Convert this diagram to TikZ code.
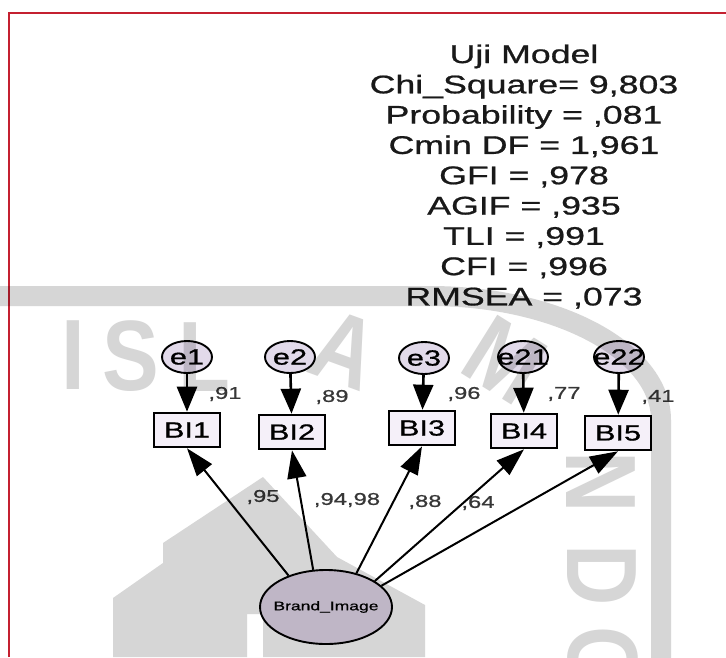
\documentclass[tikz,border=0pt]{standalone}
\usepackage{fontspec}
\setmainfont{Liberation Sans}
\newfontfamily\amosfont[FakeStretch=1.4, FakeBold=0.8]{Liberation Sans}
\newfontfamily\wmfont[FakeStretch=0.85]{Liberation Sans Bold}
\usetikzlibrary{arrows.meta,shapes.geometric}

\definecolor{frame}{RGB}{196,32,48}
\definecolor{errfill}{RGB}{226,218,234}
\definecolor{boxfill}{RGB}{245,240,249}
\definecolor{latfill}{RGB}{228,218,236}
\definecolor{coefgray}{RGB}{55,55,55}
\definecolor{fitgray}{RGB}{25,25,25}
\definecolor{wmgray}{RGB}{214,214,214}

\tikzset{
  errnode/.style={ellipse, draw, line width=1.9pt, fill=errfill,
    minimum width=50pt, minimum height=32pt, inner sep=0pt,
    font=\amosfont\fontsize{22}{22}\selectfont},
  obsnode/.style={rectangle, draw, line width=2.6pt, fill=boxfill,
    minimum width=66pt, minimum height=34pt, inner sep=0pt,
    font=\amosfont\fontsize{22}{22}\selectfont},
  latnode/.style={ellipse, draw, line width=1.9pt, fill=latfill,
    minimum width=132pt, minimum height=74pt, inner sep=0pt,
    font=\amosfont\fontsize{12.5}{12.5}\selectfont},
  errarrow/.style={-{Triangle[length=25pt,width=20pt]}, line width=2.6pt},
  loadarrow/.style={-{Triangle[length=28pt,width=19pt]}, line width=2pt},
  coef/.style={font=\amosfont\fontsize{17}{17}\selectfont, text=coefgray, inner sep=0pt},
  fitline/.style={font=\amosfont\fontsize{25.5}{25.5}\selectfont, text=fitgray,
    anchor=base, inner sep=0pt},
  wmletter/.style={font=\wmfont\fontsize{100}{100}\selectfont,
    text=wmgray, inner sep=0pt},
}

\begin{document}
\begin{tikzpicture}[x=1pt,y=-1pt]
\useasboundingbox (0,0) rectangle (726,657);
\fill[white] (0,0) rectangle (726,657);

% window frame
\draw[frame, line width=2.6pt] (9,657) -- (9,13) -- (726,13);

% fit statistics
\node[fitline] (t1) at (524,63)    {Uji Model};
\node[fitline] (t2) at (524,93.3)  {Chi\_Square= 9,803};
\node[fitline] (t3) at (524,123.6) {Probability = ,081};
\node[fitline] (t4) at (524,153.9) {Cmin DF = 1,961};
\node[fitline] (t5) at (524,184.2) {GFI = ,978};
\node[fitline] (t6) at (524,214.5) {AGIF = ,935};
\node[fitline] (t7) at (524,244.8) {TLI = ,991};
\node[fitline] (t8) at (524,275.1) {CFI = ,996};
\node[fitline] (t9) at (524,305.4) {RMSEA = ,073};

% error terms
\node[errnode] (e1)  at (187,357) {\makebox[0pt]{e1}};
\node[errnode] (e2)  at (290,357) {\makebox[0pt]{e2}};
\node[errnode] (e3)  at (424,358) {\makebox[0pt]{e3}};
\node[errnode] (e21) at (523,357) {\makebox[0pt]{e21}};
\node[errnode] (e22) at (619,357) {\makebox[0pt]{e22}};

% indicators
\node[obsnode] (BI1) at (187,430) {BI1};
\node[obsnode] (BI2) at (292,432) {BI2};
\node[obsnode] (BI3) at (422,428) {BI3};
\node[obsnode] (BI4) at (524,431) {BI4};
\node[obsnode] (BI5) at (618,433) {BI5};

% latent construct
\node[latnode] (bl) at (326,607) {\makebox[0pt]{Brand\_Image}};

% error paths
\draw[errarrow] (e1)  -- (BI1);
\draw[errarrow] (e2)  -- (BI2);
\draw[errarrow] (e3)  -- (BI3);
\draw[errarrow] (e21) -- (BI4);
\draw[errarrow] (e22) -- (BI5);

% loadings
\draw[loadarrow] (bl.140) -- (BI1.south);
\draw[loadarrow] (bl.109) -- (BI2.south);
\draw[loadarrow] (bl.48)  -- (BI3.south);
\draw[loadarrow] (bl.28)  -- (BI4.south);
\draw[loadarrow] (bl.21)  -- (BI5.south);

% squared multiple correlations
\node[coef] (r1) at (225,394) {,91};
\node[coef] (r2) at (332,397) {,89};
\node[coef] (r3) at (464,394) {,96};
\node[coef] (r4) at (564,394) {,77};
\node[coef] (r5) at (658,397) {,41};

% standardized loadings
\node[coef] (w1) at (263,497) {,95};
\node[coef] (w2) at (347,500) {,94,98};
\node[coef] (w3) at (425,502) {,88};
\node[coef] (w4) at (478,503) {,64};

% university watermark
\begin{scope}[blend mode=multiply]
  \draw[wmgray, line width=20pt] (-5,296) -- (430,296)
    arc[start angle=90, end angle=0, x radius=231pt, y radius=124pt] -- (661,670);
  \fill[wmgray] (113,657) -- (113,598) -- (163,563) -- (163,543) -- (263,477)
    -- (337,557) -- (425,605) -- (425,657) -- (263,657) -- (263,614)
    -- (247,614) -- (247,657) -- cycle;
  \node[wmletter] (wI) at (73,355) {I};
  \node[wmletter] (wS) at (131,356) {S};
  \node[wmletter] (wL) at (204,357) {L};
  \node[wmletter, rotate=-20] (wA) at (345,350) {A};
  \node[wmletter, rotate=-32] (wM) at (505,360) {M};
  \node[wmletter, rotate=-90] (wN) at (601,482) {N};
  \node[wmletter, rotate=-90] (wD) at (602,575) {D};
  \node[wmletter, rotate=-90] (wO) at (603,660) {O};
\end{scope}
\end{tikzpicture}
\end{document}
